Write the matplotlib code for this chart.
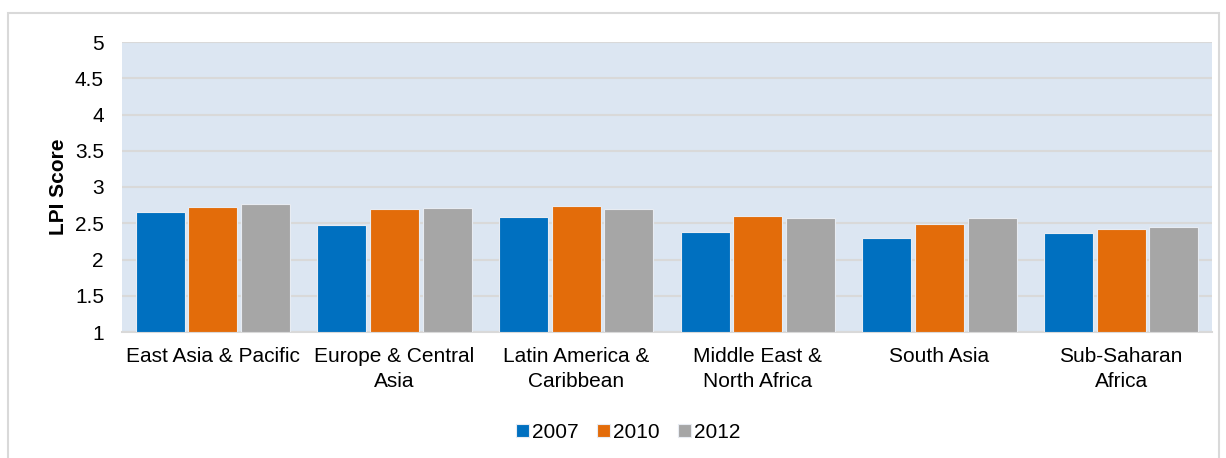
import matplotlib.pyplot as plt
import numpy as np
from matplotlib.patches import Rectangle

plt.rcParams['font.family'] = ['Liberation Sans', 'DejaVu Sans']

regions = ["East Asia & Pacific", "Europe & Central\nAsia", "Latin America &\nCaribbean",
           "Middle East &\nNorth Africa", "South Asia", "Sub-Saharan\nAfrica"]
years = ["2007", "2010", "2012"]
lpi_2007 = [2.66, 2.47, 2.58, 2.38, 2.30, 2.36]
lpi_2010 = [2.72, 2.70, 2.74, 2.60, 2.49, 2.42]
lpi_2012 = [2.77, 2.71, 2.70, 2.57, 2.57, 2.45]
colors = ["#0070C0", "#E36C0A", "#A6A6A6"]

fig = plt.figure(figsize=(12.26, 4.58), dpi=100)
ax = fig.add_axes([122/1226, 1-332/458, 1090/1226, 290/458])

# outer frame
fig.patches.append(Rectangle((8/1226, -0.05), 1211/1226, 1-13/458+0.05,
                             transform=fig.transFigure, fill=False,
                             edgecolor="#D9D9D9", linewidth=1.5))

x = np.arange(len(regions))
w = 0.27
step = 0.29
for i, (vals, yr) in enumerate(zip([lpi_2007, lpi_2010, lpi_2012], years)):
    ax.bar(x + (i-1)*step, np.array(vals)-1, bottom=1, width=w, color=colors[i],
           edgecolor="#E8ECF2", linewidth=0.8, label=yr, zorder=3)

fs = 15
ax.set_facecolor("#DCE6F2")
ax.set_xlim(-0.5, 5.5)
ax.set_ylim(1, 5)
ax.set_yticks([1, 1.5, 2, 2.5, 3, 3.5, 4, 4.5, 5])
ax.set_yticklabels(["1", "1.5", "2", "2.5", "3", "3.5", "4", "4.5", "5"])
ax.set_xticks(x)
ax.set_xticklabels(regions, fontsize=fs, linespacing=1.35)
ax.tick_params(axis='y', length=0, pad=13, labelsize=fs)
ax.tick_params(axis='x', length=0, pad=11)
ax.grid(axis='y', color="#D9D9D9", linewidth=1.5, zorder=1)
for s in ["left", "top", "right"]:
    ax.spines[s].set_visible(False)
ax.spines["bottom"].set_color("#D9D9D9")
ax.spines["bottom"].set_linewidth(1.5)
ax.set_ylabel("LPI Score", fontsize=fs, fontweight='bold', labelpad=5)

fig.legend(loc='center', bbox_to_anchor=(628/1226, 1-432/458), ncol=3, frameon=False,
           fontsize=fs, handlelength=0.6, handleheight=0.6, handletextpad=0.15,
           columnspacing=0.9)

plt.savefig("out.png", dpi=100)
